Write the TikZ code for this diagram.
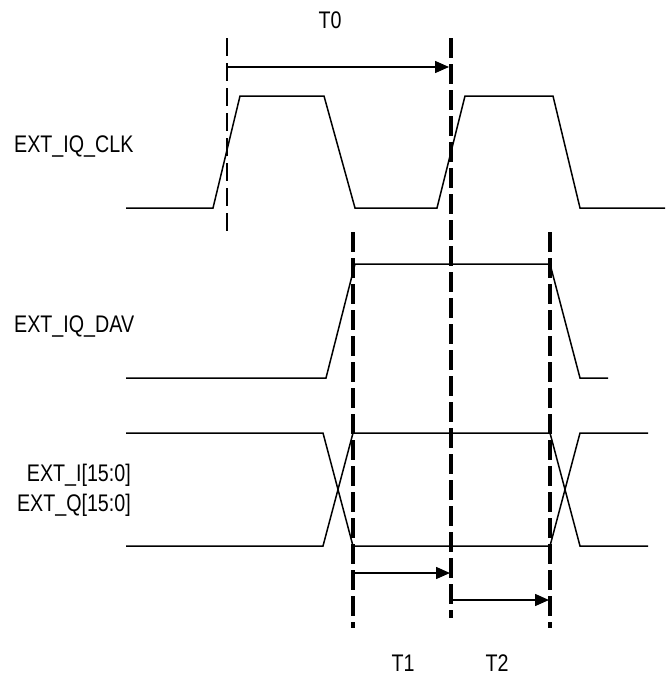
\documentclass[tikz,border=0pt]{standalone}
\usepackage{fontspec}
\setmainfont{Liberation Sans}[FakeStretch=0.82]
\usetikzlibrary{arrows.meta}
\begin{document}
\begin{tikzpicture}[x=1pt,y=-1pt,
  sig/.style={line width=1.5pt, line join=miter},
  thindash/.style={line width=1.7pt, dash pattern=on 18pt off 7pt},
  thickdash/.style={line width=3.2pt, dash pattern=on 20pt off 6pt},
  meas/.style={line width=1.5pt, -{Triangle[length=14pt,width=12pt]}},
  lbl/.style={font=\fontsize{24}{28}\selectfont, inner sep=0pt}]
\useasboundingbox (0,0) rectangle (665,675);
% labels
\node[lbl, anchor=base west] (clk) at (14,152) {EXT\_IQ\_CLK};
\node[lbl, anchor=base west] (dav) at (14,332) {EXT\_IQ\_DAV};
\node[lbl, anchor=base east] (bi) at (131,481) {EXT\_I[15:0]};
\node[lbl, anchor=base east] (bq) at (131,511) {EXT\_Q[15:0]};
\node[lbl, anchor=base] (t0) at (330,28) {T0};
\node[lbl, anchor=base] (t1) at (403,671) {T1};
\node[lbl, anchor=base] (t2) at (497,671) {T2};
% clock
\draw[sig] (126,208) -- (213,208) -- (240,96) -- (324,96) -- (355,208) -- (437,208)
  -- (465,96) -- (553,96) -- (580,208) -- (665,208);
% data valid
\draw[sig] (126,378) -- (326,378) -- (355,264) -- (550,264) -- (580,378) -- (608,378);
% bus
\draw[sig] (126,433) -- (323,433) -- (353,546) -- (550,546) -- (580,433) -- (648,433);
\draw[sig] (126,546) -- (323,546) -- (353,433) -- (550,433) -- (580,546) -- (648,546);
% dashed reference lines
\coordinate (d1a) at (227,38); \coordinate (d1b) at (227,237);
\coordinate (d2a) at (451,38); \coordinate (d2b) at (451,618);
\coordinate (d3a) at (353,232); \coordinate (d3b) at (353,628);
\coordinate (d4a) at (550,232); \coordinate (d4b) at (550,628);
\draw[thindash] (d1a) -- (d1b);
\draw[thickdash] (d2a) -- (d2b);
\draw[thickdash] (d3a) -- (d3b);
\draw[thickdash] (d4a) -- (d4b);
% measurement arrows
\coordinate (a0s) at (227,67); \coordinate (a0e) at (449,67);
\coordinate (a1s) at (353,573); \coordinate (a1e) at (450,573);
\coordinate (a2s) at (451,600); \coordinate (a2e) at (549,600);
\draw[meas] (a0s) -- (a0e);
\draw[meas] (a1s) -- (a1e);
\draw[meas] (a2s) -- (a2e);
\end{tikzpicture}
\end{document}
